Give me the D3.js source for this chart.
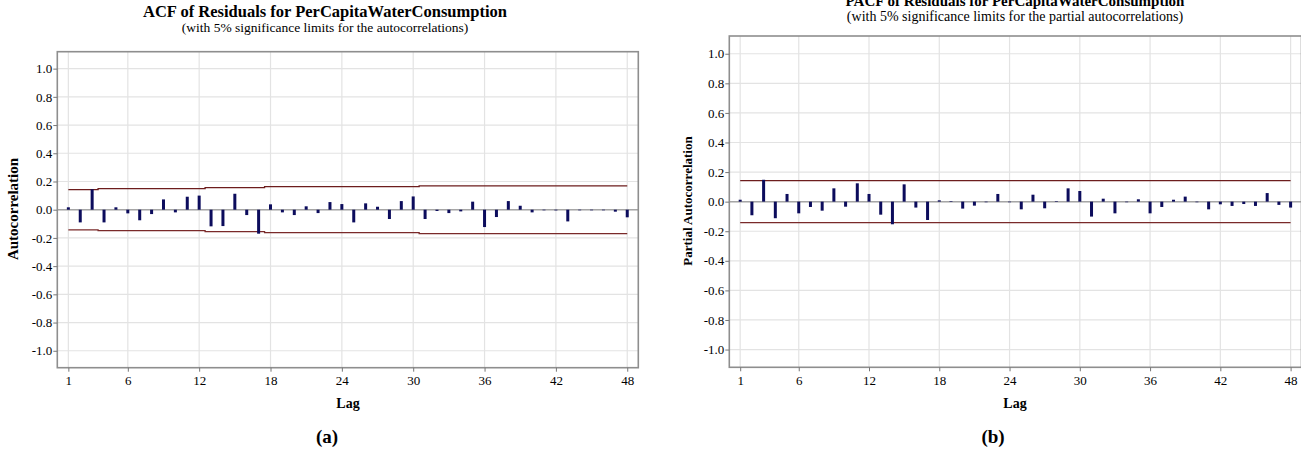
<!DOCTYPE html>
<html>
<head>
<meta charset="utf-8">
<script src="https://cdn.jsdelivr.net/npm/d3@7"></script>
<style>
  html, body { margin: 0; padding: 0; background: #fff; }
  svg { display: block; }
  text { font-family: "Liberation Serif", "Times New Roman", serif; fill: #000; }
</style>
</head>
<body>
<svg id="chart" width="1301" height="450"></svg>
<script>
// ---------- data ----------
const lags = [1,2,3,4,5,6,7,8,9,10,11,12,13,14,15,16,17,18,19,20,21,22,23,24,
              25,26,27,28,29,30,31,32,33,34,35,36,37,38,39,40,41,42,43,44,45,46,47,48];
const xTickLabels = [1, 6, 12, 18, 24, 30, 36, 42, 48];
const yTickLabels = [-1.0, -0.8, -0.6, -0.4, -0.2, 0.0, 0.2, 0.4, 0.6, 0.8, 1.0];

const acfValues = [0.017,-0.090,0.145,-0.090,0.017,-0.026,-0.075,-0.031,0.073,-0.019,0.092,0.100,
                   -0.118,-0.116,0.113,-0.038,-0.170,0.038,-0.019,-0.038,0.024,-0.024,0.054,0.040,
                   -0.090,0.045,0.021,-0.066,0.061,0.094,-0.066,-0.009,-0.024,-0.012,0.057,-0.123,
                   -0.052,0.061,0.028,-0.019,-0.002,-0.005,-0.083,-0.003,0.000,0.000,-0.014,-0.054];
const acfLimits = [0.143,0.143,0.143,0.149,0.149,0.149,0.149,0.149,0.149,0.149,0.149,0.149,
                   0.156,0.156,0.156,0.156,0.156,0.163,0.163,0.163,0.163,0.163,0.163,0.163,
                   0.163,0.163,0.163,0.163,0.163,0.163,0.169,0.169,0.169,0.169,0.169,0.169,
                   0.169,0.169,0.169,0.169,0.169,0.169,0.169,0.169,0.169,0.169,0.169,0.169];

const pacfValues = [0.013,-0.092,0.148,-0.112,0.052,-0.079,-0.036,-0.061,0.090,-0.034,0.124,0.052,
                    -0.088,-0.153,0.117,-0.040,-0.124,0.009,0.004,-0.047,-0.027,-0.002,0.052,-0.003,
                    -0.052,0.047,-0.045,0.003,0.090,0.072,-0.101,0.020,-0.079,-0.003,0.016,-0.079,
                    -0.036,0.013,0.034,-0.002,-0.052,-0.018,-0.029,-0.016,-0.029,0.058,-0.022,-0.040];
const pacfLimits = [0.142,0.142,0.142,0.142,0.142,0.142,0.142,0.142,0.142,0.142,0.142,0.142,
                    0.142,0.142,0.142,0.142,0.142,0.142,0.142,0.142,0.142,0.142,0.142,0.142,
                    0.142,0.142,0.142,0.142,0.142,0.142,0.142,0.142,0.142,0.142,0.142,0.142,
                    0.142,0.142,0.142,0.142,0.142,0.142,0.142,0.142,0.142,0.142,0.142,0.142];

// ---------- drawing ----------
const svg = d3.select("#chart");
const SERIF = '"Liberation Serif", "Times New Roman", serif';

function drawPanel(cfg) {
  const g = svg.append("g");
  const x = d3.scaleLinear().domain([0.07, 48.93]).range([cfg.left, cfg.right]);
  const y = d3.scaleLinear().domain([-1.12, 1.12]).range([cfg.bottom, cfg.top]);

  // gridlines
  g.append("g").selectAll("line.h").data(yTickLabels).join("line")
    .attr("x1", cfg.left).attr("x2", cfg.right)
    .attr("y1", d => y(d)).attr("y2", d => y(d))
    .attr("stroke", "#e3e3e3").attr("stroke-width", 1.2);
  g.append("g").selectAll("line.v").data(xTickLabels).join("line")
    .attr("y1", cfg.top).attr("y2", cfg.bottom)
    .attr("x1", d => x(d)).attr("x2", d => x(d))
    .attr("stroke", "#e3e3e3").attr("stroke-width", 1.2);

  // zero reference
  g.append("line")
    .attr("x1", cfg.left).attr("x2", cfg.right)
    .attr("y1", y(0)).attr("y2", y(0))
    .attr("stroke", "#a6a6a6").attr("stroke-width", 1.5);

  // significance limits
  const pts = lags.map((l, i) => [l, cfg.limits[i]]);
  const line = d3.line().x(d => x(d[0])).curve(d3.curveStep);
  g.append("path").datum(pts)
    .attr("d", line.y(d => y(d[1])))
    .attr("fill", "none").attr("stroke", "#6d1d1d").attr("stroke-width", 1.3);
  g.append("path").datum(pts)
    .attr("d", line.y(d => y(-d[1])))
    .attr("fill", "none").attr("stroke", "#7a2a2a").attr("stroke-width", 1.3);

  // bars
  g.append("g").selectAll("rect").data(cfg.values).join("rect")
    .attr("x", (d, i) => x(lags[i]) - 1.5)
    .attr("width", 3)
    .attr("y", d => Math.min(y(d), y(0)))
    .attr("height", d => Math.max(0.6, Math.abs(y(d) - y(0))))
    .attr("fill", "#0c0c5c");

  // frame
  g.append("rect")
    .attr("x", cfg.left).attr("y", cfg.top)
    .attr("width", cfg.right - cfg.left).attr("height", cfg.bottom - cfg.top)
    .attr("fill", "none").attr("stroke", "#8e8e8e").attr("stroke-width", 1.6);

  // axes
  const yAxis = d3.axisLeft(y).tickValues(yTickLabels).tickFormat(d => d.toFixed(1)).tickSize(4).tickPadding(1);
  const ya = g.append("g").attr("transform", `translate(${cfg.left},0)`).call(yAxis);
  const xAxis = d3.axisBottom(x).tickValues(xTickLabels).tickFormat(d => String(d)).tickSize(4).tickPadding(4);
  const xa = g.append("g").attr("transform", `translate(0,${cfg.bottom})`).call(xAxis);
  [ya, xa].forEach(a => {
    a.attr("font-family", SERIF).attr("font-size", cfg.tickSize);
    a.select(".domain").remove();
    a.selectAll(".tick line").attr("stroke", "#777");
    a.selectAll(".tick text")
      .attr("font-family", SERIF).style("font-family", SERIF)
      .style("font-size", cfg.tickSize + "px").attr("fill", "#222");
  });

  // titles
  g.append("text").attr("x", cfg.titleX).attr("y", cfg.titleY)
    .attr("text-anchor", "middle").style("font-weight", "bold").style("font-size", cfg.titleSize + "px")
    .text(cfg.title);
  g.append("text").attr("x", cfg.titleX).attr("y", cfg.subY)
    .attr("text-anchor", "middle").style("font-size", cfg.subSize + "px")
    .text(cfg.subtitle);
  g.append("text")
    .attr("transform", `translate(${cfg.ylabX},${cfg.ylabY}) rotate(-90)`)
    .attr("text-anchor", "middle").style("font-weight", "bold").style("font-size", cfg.ylabSize + "px")
    .text(cfg.ylabel);
  g.append("text").attr("x", cfg.lagX).attr("y", 408)
    .attr("text-anchor", "middle").style("font-weight", "bold").style("font-size", "14px")
    .text("Lag");
  g.append("text").attr("x", cfg.panelX).attr("y", 443)
    .attr("text-anchor", "middle").style("font-weight", "bold").style("font-size", "19px")
    .text(cfg.panel);
}

drawPanel({
  left: 57.3, right: 638.3, top: 51.7, bottom: 367.7,
  values: acfValues, limits: acfLimits, tickSize: 13,
  title: "ACF of Residuals for PerCapitaWaterConsumption",
  subtitle: "(with 5% significance limits for the autocorrelations)",
  titleX: 325, titleY: 16.5, subY: 32, titleSize: 16.5, subSize: 13.5,
  ylabel: "Autocorrelation", ylabX: 18, ylabY: 209, ylabSize: 15,
  lagX: 348, panelX: 327, panel: "(a)"
});

drawPanel({
  left: 729.3, right: 1301.5, top: 36, bottom: 367.3,
  values: pacfValues, limits: pacfLimits, tickSize: 13,
  title: "PACF of Residuals for PerCapitaWaterConsumption",
  subtitle: "(with 5% significance limits for the partial autocorrelations)",
  titleX: 1015, titleY: 6, subY: 21, titleSize: 15, subSize: 14,
  ylabel: "Partial Autocorrelation", ylabX: 692, ylabY: 201, ylabSize: 13,
  lagX: 1015, panelX: 993, panel: "(b)"
});
</script>
</body>
</html>
